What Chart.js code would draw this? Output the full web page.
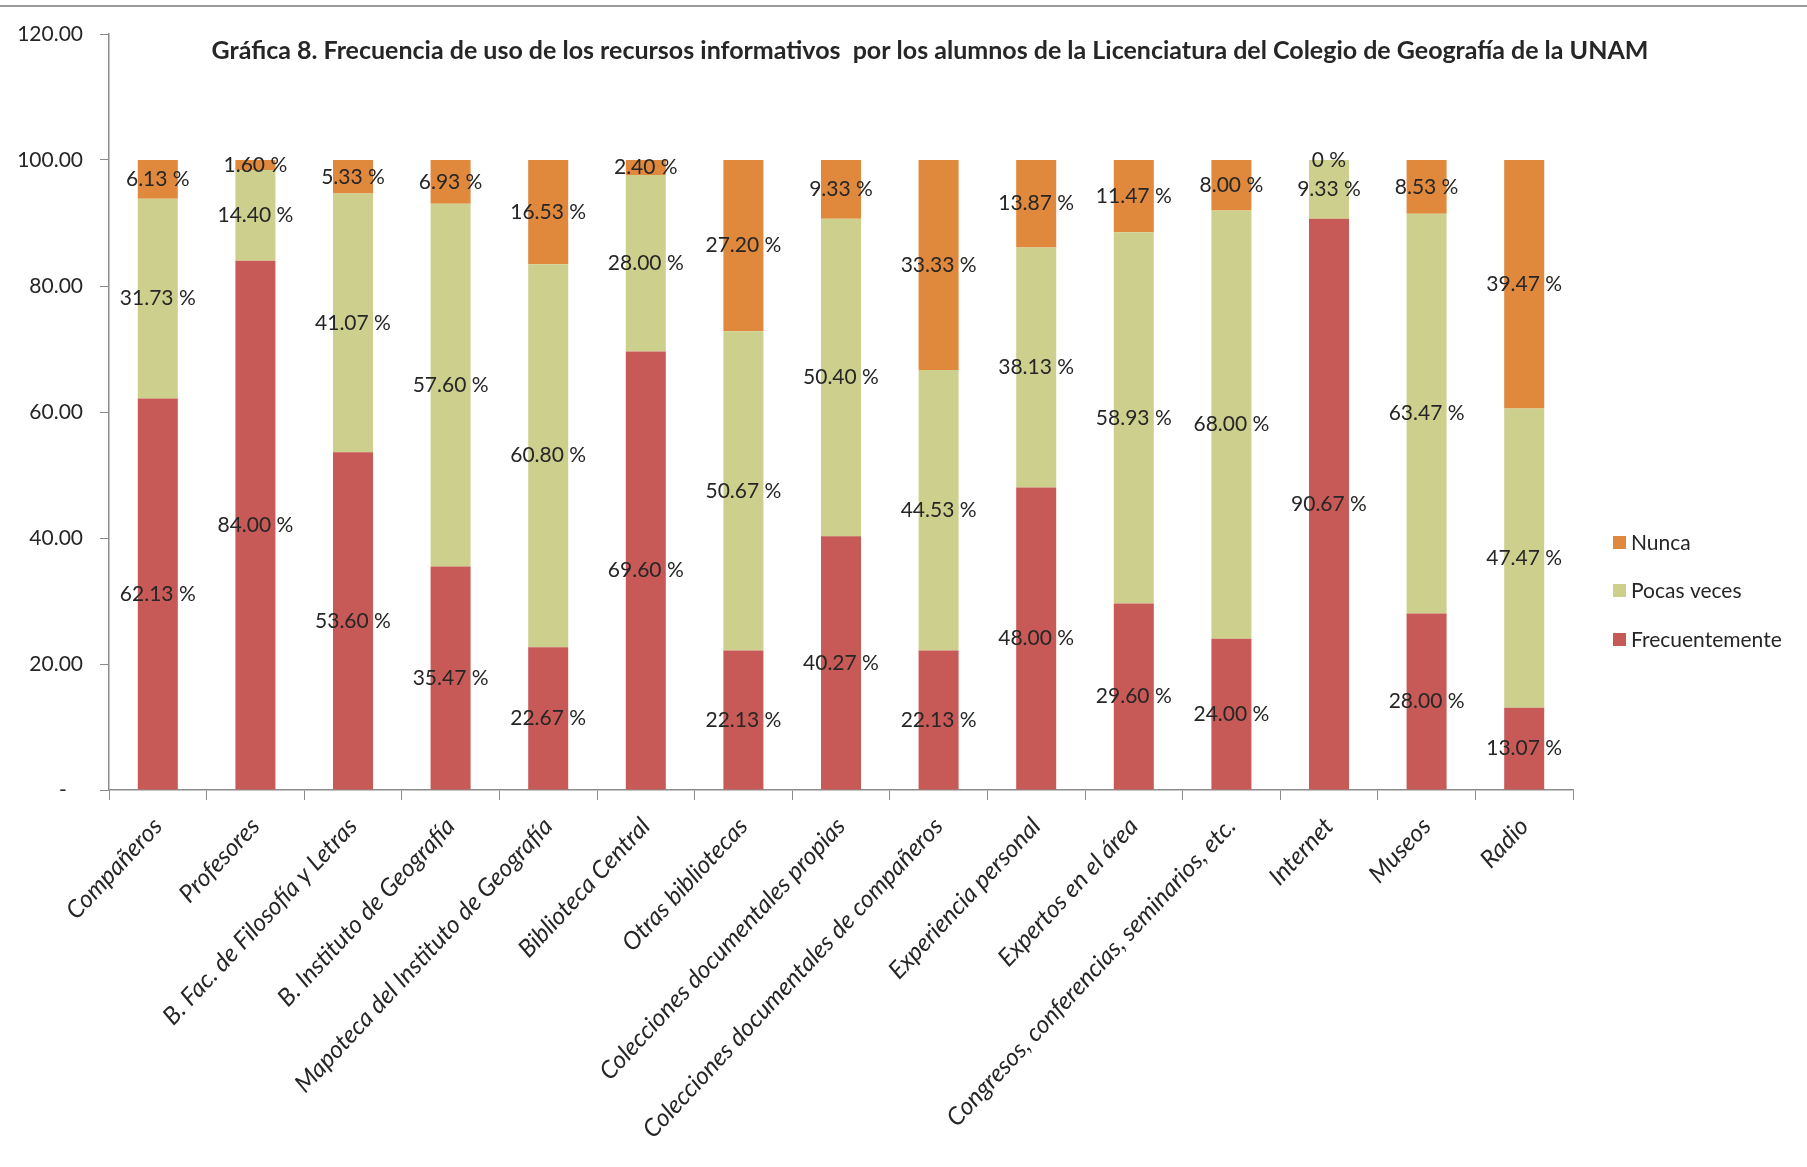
<!DOCTYPE html>
<html><head><meta charset="utf-8">
<script src="https://cdn.jsdelivr.net/npm/chart.js@4"></script>
<style>
html,body{margin:0;padding:0;background:#fff;}
#wrap{position:relative;width:1807px;height:1167px;overflow:hidden;}
#topline{position:absolute;left:0;top:5px;width:1807px;height:2px;background:#9a9a9a;}
canvas{position:absolute;left:0;top:0;}
</style></head><body>
<div id="wrap"><canvas id="c" width="1807" height="1167"></canvas><div id="topline"></div></div>
<script>
const titleText = 'Gráfica 8. Frecuencia de uso de los recursos informativos  por los alumnos de la Licenciatura del Colegio de Geografía de la UNAM';
const categories = ['Compañeros','Profesores','B. Fac. de Filosofía y Letras','B. Instituto de Geografía','Mapoteca del Instituto de Geografía','Biblioteca Central','Otras bibliotecas','Colecciones documentales propias','Colecciones documentales de compañeros','Experiencia personal','Expertos en el área','Congresos, conferencias, seminarios, etc.','Internet','Museos','Radio'];
const frecuentemente = [62.13,84.00,53.60,35.47,22.67,69.60,22.13,40.27,22.13,48.00,29.60,24.00,90.67,28.00,13.07];
const pocasVeces    = [31.73,14.40,41.07,57.60,60.80,28.00,50.67,50.40,44.53,38.13,58.93,68.00,9.33,63.47,47.47];
const nunca         = [6.13,1.60,5.33,6.93,16.53,2.40,27.20,9.33,33.33,13.87,11.47,8.00,0,8.53,39.47];
const seriesNames = ['Frecuentemente','Pocas veces','Nunca'];
const seriesColors = ['#C75A56','#CCD08C','#E0893C'];
const yMin = 0, yMax = 120, yStep = 20;

const FONT = 'Lato';
const TXT = '#262626';

const dataLabelPlugin = {
  id: 'dl',
  afterDatasetsDraw(chart) {
    const ctx = chart.ctx;
    ctx.save();
    ctx.font = '21px ' + FONT;
    ctx.fillStyle = TXT;
    ctx.textAlign = 'center';
    ctx.textBaseline = 'middle';
    chart.data.datasets.forEach((ds, i) => {
      const meta = chart.getDatasetMeta(i);
      meta.data.forEach((el, j) => {
        const v = ds.data[j];
        const p = el.getProps(['x', 'y', 'base'], true);
        const cy = (p.y + p.base) / 2;
        const txt = v === 0 ? '0 %' : v.toFixed(2) + ' %';
        ctx.fillText(txt, p.x, cy);
      });
    });
    ctx.restore();
  }
};

const titleLegendPlugin = {
  id: 'tl',
  afterDraw(chart) {
    const ctx = chart.ctx;
    ctx.save();
    ctx.font = 'bold 25px ' + FONT;
    ctx.fillStyle = TXT;
    ctx.textAlign = 'center';
    ctx.textBaseline = 'middle';
    ctx.fillText(titleText, 930, 51);
    ctx.font = '21px ' + FONT;
    ctx.textAlign = 'left';
    const ys = [543, 591, 640];
    for (let k = 0; k < 3; k++) {
      const idx = 2 - k;
      ctx.fillStyle = seriesColors[idx];
      ctx.fillRect(1613, ys[k] - 7, 13, 13);
      ctx.fillStyle = TXT;
      ctx.fillText(seriesNames[idx], 1631, ys[k]);
    }
    ctx.restore();
  }
};

const datasets = [frecuentemente, pocasVeces, nunca].map((d, i) => ({
  label: seriesNames[i],
  data: d,
  backgroundColor: seriesColors[i],
  borderWidth: 0,
  barPercentage: 0.41,
  categoryPercentage: 1.0
}));

new Chart(document.getElementById('c'), {
  type: 'bar',
  data: { labels: categories, datasets },
  options: {
    responsive: false,
    animation: false,
    devicePixelRatio: 1,
    layout: { padding: { top: 34, right: 234, left: 0, bottom: 0 } },
    plugins: { legend: { display: false }, title: { display: false }, tooltip: { enabled: false } },
    scales: {
      x: {
        stacked: true,
        grid: { offset: true, drawOnChartArea: false, drawTicks: true, tickLength: 10, color: '#8c8c8c' },
        border: { color: '#8c8c8c', width: 1.5 },
        ticks: { minRotation: 47, maxRotation: 47, autoSkip: false, padding: 12, color: TXT, font: { family: FONT, size: 24.5, style: 'italic' } },
        afterFit(s) { s.height = 377; }
      },
      y: {
        stacked: true,
        min: yMin, max: yMax,
        grid: { drawOnChartArea: false, drawTicks: true, tickLength: 9, color: '#8c8c8c' },
        border: { color: '#8c8c8c', width: 1.5 },
        ticks: {
          stepSize: yStep, padding: 17, color: TXT, font: { family: FONT, size: 21 },
          callback: v => v === 0 ? '-   ' : Number(v).toFixed(2)
        },
        afterFit(s) { s.width = 109; }
      }
    }
  },
  plugins: [dataLabelPlugin, titleLegendPlugin]
});
</script>
</body></html>
